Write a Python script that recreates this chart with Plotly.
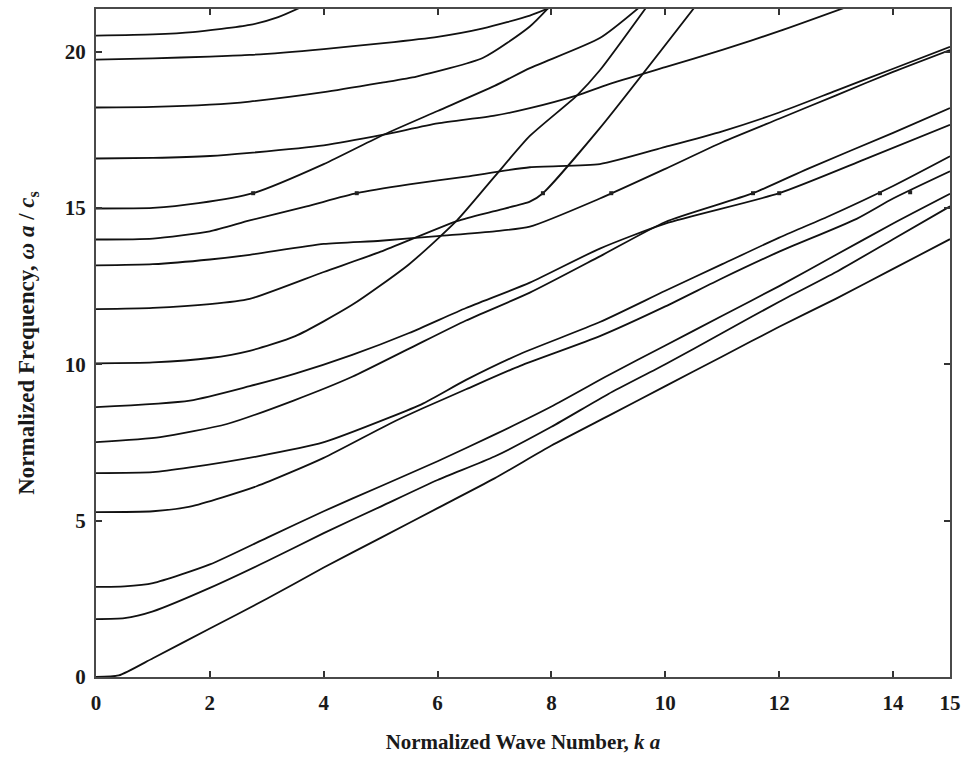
import plotly.graph_objects as go

# Dispersion branches: (ka, omega a / c_s)
branch_A = [(0,0),(0.4,0.05),(1,0.6),(2,1.55),(3,2.5),(4,3.5),(5,4.45),(6,5.4),(7,6.35),(8,7.4),(9,8.35),(10,9.3),(11,10.25),(12,11.2),(13,12.1),(14,13.05),(15,14.0)]
branch_B = [(0,1.85),(0.5,1.88),(1,2.1),(2,2.85),(3,3.7),(4,4.6),(5,5.45),(6,6.3),(7,7.05),(8,8.0),(9,9.05),(10,10.0),(11,11.0),(12,12.0),(13,12.95),(14,14.0),(15,15.05)]
branch_C = [(0,2.88),(0.5,2.9),(1,3.0),(2,3.6),(3,4.45),(4,5.3),(5,6.1),(6,6.9),(7,7.75),(8,8.65),(9,9.65),(10,10.6),(11,11.55),(12,12.5),(13,13.5),(14,14.5),(15,15.45)]
branch_D = [(0,5.27),(1,5.3),(1.65,5.45),(2.82,6.1),(3.99,7.0),(5.16,8.1),(5.75,8.6),(6.5,9.2),(7.45,9.95),(8.85,10.9),(10,11.85),(11,12.75),(12,13.6),(13.36,14.65),(14,15.3),(15,16.17)]
branch_E = [(0,6.52),(1,6.55),(1.65,6.7),(2.82,7.05),(3.99,7.5),(5.16,8.3),(5.75,8.75),(6.5,9.5),(7.45,10.33),(8.85,11.35),(10,12.35),(11,13.2),(12,14.05),(12.83,14.7),(14,15.7),(15,16.65)]
branch_F = [(0,7.51),(1.13,7.67),(2.3,8.09),(3.47,8.84),(4.5,9.6),(5.5,10.5),(6.5,11.4),(7.62,12.29),(8.85,13.45),(10,14.55),(11.54,15.47),(12.5,16.25),(14,17.4),(15,18.19)]
branch_G = [(0,8.63),(1.65,8.84),(2.7,9.3),(3.5,9.7),(4.5,10.3),(5.5,11.0),(6.5,11.8),(7.62,12.61),(8.85,13.7),(10,14.5),(12.0,15.47),(13.5,16.55),(15,17.66)]
branch_H = [(0,10.03),(1,10.06),(2,10.2),(2.7,10.43),(3.5,10.9),(4.5,11.9),(5.5,13.2),(6.34,14.6),(7,16.0),(7.62,17.3),(8.45,18.6),(8.85,19.4),(9.7,21.5)]
branch_I = [(0,11.76),(1,11.8),(2,11.92),(2.7,12.09),(4,12.95),(5,13.6),(6.34,14.58),(7.0,14.9),(7.62,15.2),(7.85,15.47),(8.85,17.55),(10.55,21.5)]
branch_J = [(0,13.16),(1,13.2),(2,13.35),(2.7,13.5),(4,13.85),(5,13.95),(6,14.1),(7,14.25),(7.62,14.4),(8.85,15.3),(10,16.25),(11,17.1),(12,17.85),(13,18.6),(14,19.35),(15,20.05)]
branch_K = [(0,13.99),(1,14.02),(2,14.25),(2.7,14.6),(3.7,15.05),(4.58,15.47),(5.5,15.75),(6.5,16.0),(7.62,16.3),(8.85,16.4),(10,16.95),(11,17.45),(12,18.05),(13,18.75),(14,19.45),(15,20.15)]
branch_L = [(0,14.98),(1,15.0),(1.8,15.15),(2.76,15.47),(4,16.4),(5.05,17.34),(6,18.1),(7,18.9),(7.62,19.47),(8.85,20.43),(9.6,21.5)]
branch_M = [(0,16.58),(1,16.6),(2,16.66),(2.7,16.76),(4,17.0),(5.05,17.34),(6,17.7),(7,17.95),(7.62,18.19),(8.45,18.6),(9,18.95),(10,19.5),(11,20.05),(12,20.65),(13.3,21.5)]
branch_N = [(0,18.21),(1,18.23),(2,18.3),(2.7,18.4),(4,18.7),(5,19.0),(5.63,19.2),(6.8,19.8),(7.62,20.8),(8.0,21.5)]
branch_O = [(0,19.74),(1,19.78),(2,19.84),(2.7,19.89),(4,20.08),(5.05,20.27),(6,20.47),(6.8,20.74),(7.62,21.15),(8.1,21.5)]
branch_P = [(0,20.51),(1,20.55),(1.7,20.62),(2.7,20.85),(3.2,21.1),(3.7,21.5)]

branches = [branch_A, branch_B, branch_C, branch_D, branch_E, branch_F, branch_G, branch_H,
            branch_I, branch_J, branch_K, branch_L, branch_M, branch_N, branch_O, branch_P]

# small dark dots seen along the curves at one frequency level
dot_k = [2.76, 4.58, 7.85, 9.05, 11.54, 12.0, 13.77, 14.3]
dot_w = [15.47, 15.47, 15.47, 15.47, 15.47, 15.47, 15.47, 15.5]

x_ticks = [0, 2, 4, 6, 8, 10, 12, 14, 15]
y_ticks = [0, 5, 10, 15, 20]

fig = go.Figure()
for br in branches:
    fig.add_trace(go.Scatter(
        x=[p[0] for p in br], y=[p[1] for p in br], mode="lines",
        line=dict(color="#111111", width=1.8, shape="spline", smoothing=0.6),
        showlegend=False, hoverinfo="skip"))
fig.add_trace(go.Scatter(x=dot_k, y=dot_w, mode="markers",
                         marker=dict(symbol="square", size=4, color="#222222"),
                         showlegend=False, hoverinfo="skip"))

tick_font = dict(family="Liberation Serif", size=21, color="#1a1a1a", weight="bold")
axis_common = dict(showline=True, linecolor="#4a4a4a", linewidth=2, mirror="ticks",
                   ticks="inside", ticklen=6, tickwidth=2, tickcolor="#333333",
                   showgrid=False, zeroline=False, tickfont=tick_font)

fig.update_xaxes(range=[0, 15], tickvals=x_ticks, ticktext=[str(v) for v in x_ticks],
                 ticklabelstandoff=6,
                 title=dict(text="Normalized Wave Number, <i>k a</i>",
                            font=dict(family="Liberation Serif", size=21, color="#1a1a1a", weight="bold"),
                            standoff=20),
                 **axis_common)
fig.update_yaxes(range=[0, 21.36], tickvals=y_ticks, ticktext=[str(v) for v in y_ticks],
                 ticklabelstandoff=4,
                 title=dict(text="Normalized Frequency, <i>ω a</i> / <i>c</i><sub>s</sub>",
                            font=dict(family="Liberation Serif", size=23, color="#1a1a1a", weight="bold"),
                            standoff=24),
                 **axis_common)

fig.update_layout(width=969, height=767, plot_bgcolor="white", paper_bgcolor="white",
                  margin=dict(l=96, r=19, t=7, b=90))

fig.write_html("out.html")
